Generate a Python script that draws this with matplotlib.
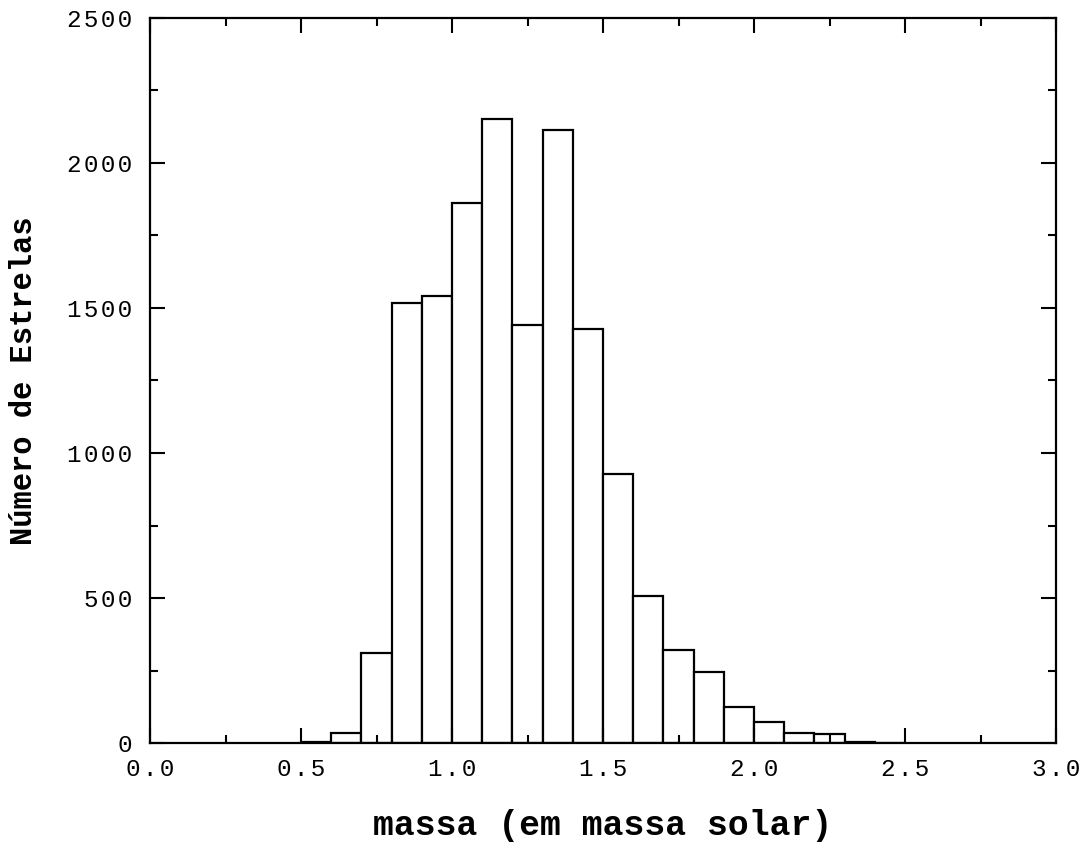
import numpy as np
import matplotlib
matplotlib.use('Agg')
from matplotlib import pyplot as plt
from matplotlib.ticker import MultipleLocator, FuncFormatter

# 直方图数据（bin 左边界，宽 0.1）
bin_left = [0.5, 0.6, 0.7, 0.8, 0.9, 1.0, 1.1, 1.2, 1.3, 1.4,
            1.5, 1.6, 1.7, 1.8, 1.9, 2.0, 2.1, 2.2, 2.3, 2.4]
counts = [3, 35, 309, 1516, 1543, 1862, 2153, 1441, 2113, 1429,
          928, 507, 321, 244, 123, 73, 33, 30, 4, 1]
bin_width = 0.1

x_label = 'massa (em massa solar)'
y_label = 'Número de Estrelas'

mono = ['Liberation Mono', 'DejaVu Sans']

fig = plt.figure(figsize=(10.86, 8.43), dpi=100)
ax = fig.add_axes([150 / 1086, 100 / 843, 906 / 1086, 725 / 843])

ax.bar(bin_left, counts, width=bin_width, align='edge',
       facecolor='white', edgecolor='black', linewidth=1.6)

ax.set_xlim(0, 3.0)
ax.set_ylim(0, 2500)

# 刻度
ax.xaxis.set_major_locator(MultipleLocator(0.5))
ax.xaxis.set_minor_locator(MultipleLocator(0.25))
ax.yaxis.set_major_locator(MultipleLocator(500))
ax.yaxis.set_minor_locator(MultipleLocator(250))

spaced = lambda s: '\u200a'.join(s)
ax.xaxis.set_major_formatter(FuncFormatter(lambda v, p: spaced('%.1f' % v)))
ax.yaxis.set_major_formatter(FuncFormatter(lambda v, p: spaced('%d' % v)))

ax.tick_params(which='both', direction='in', top=True, right=True,
               width=1.5, colors='black')
ax.tick_params(which='major', length=11)
ax.tick_params(which='minor', length=6)
ax.tick_params(axis='x', which='major', pad=11)
ax.tick_params(axis='y', which='major', pad=13)

for lab in ax.get_xticklabels() + ax.get_yticklabels():
    lab.set_family(mono)
    lab.set_fontsize(17.5)

for sp in ax.spines.values():
    sp.set_linewidth(1.6)

ax.set_xlabel(x_label, family=mono, fontweight='bold', fontsize=25, labelpad=20)
ax.set_ylabel(y_label, family=mono, fontweight='bold', fontsize=22, labelpad=20)

fig.savefig('out.png', dpi=100)
